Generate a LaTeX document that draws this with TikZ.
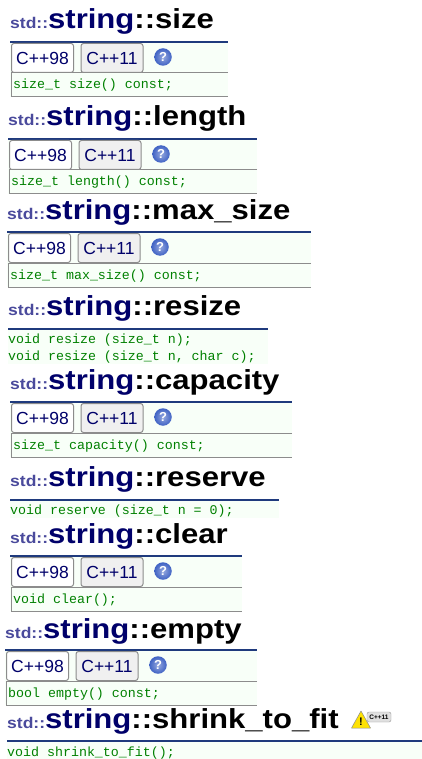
\documentclass[tikz,border=0pt]{standalone}
\usepackage{fontspec}
\setmainfont{Liberation Sans}
\setmonofont{Liberation Mono}
\definecolor{rulecol}{HTML}{1F3A7D}
\definecolor{stdcol}{HTML}{4A4A9C}
\definecolor{namecol}{HTML}{00006A}
\definecolor{codecol}{HTML}{008000}
\definecolor{codebg}{HTML}{F8FFF8}
\definecolor{tabline}{HTML}{8C8C8C}
\definecolor{tabgray}{HTML}{F0F0F0}
\definecolor{helpcol}{HTML}{3F62C4}

% title and rule of one section
\newcommand{\apititle}[6]{
	\node[titletext] (title#1) at (#2,#3) {\scalebox{1.13}[1]{{\fontsize{15.5}{15.5}\selectfont\color{stdcol}std::}{\color{namecol}string}::#6}};
	\coordinate (rulel#1) at (#2,#4);
	\coordinate (ruler#1) at (#5,#4);
	\draw[headrule] (rulel#1) -- (ruler#1);
}
% background, C++98 and C++11 tabs, help icon, one line of code in a box
\newcommand{\apibox}[5]{
	\fill[codebg] (#2,#3+1) rectangle (#4,#3+55);
	\draw[boxline] (#4,#3+31) -- (#2+1,#3+31) -- (#2+1,#3+55) -- (#4,#3+55);
	\node[tabbox,fill=white] (taba#1) at (#2+1,#3+31) {C++98};
	\node[tabbox,fill=tabgray] (tabb#1) at (#2+70.5,#3+31) {C++11};
	\node[helpicon] (help#1) at (#2+153,#3+15) {?};
	\node[codetext] (code#1) at (#2+3,#3+47) {#5};
}

\begin{document}
\begin{tikzpicture}[x=1pt,y=-1pt,
	titletext/.style={anchor=base west, inner sep=0pt, font=\fontsize{27.5}{27.5}\selectfont\bfseries},
	headrule/.style={line width=1.6pt, rulecol},
	boxline/.style={line width=1pt, tabline},
	tabbox/.style={draw=tabline, line width=1pt, anchor=south west, inner sep=0pt, minimum width=62pt, minimum height=29pt, rounded corners=2.5pt, text=namecol, font=\fontsize{17.5}{17.5}\selectfont},
	helpicon/.style={circle, inner color=helpcol!55!white, outer color=helpcol, text=white, inner sep=0pt, minimum size=17.5pt, font=\fontsize{13}{13}\selectfont\bfseries},
	codetext/.style={anchor=base west, inner sep=0pt, text=codecol, font=\fontsize{13.3}{13.3}\selectfont\ttfamily},
	]
	\useasboundingbox (0,0) rectangle (422,759);
	\fill[white] (0,0) rectangle (422,759);

	\apititle{size}{10}{29}{42}{228}{size}
	\apibox{size}{10}{42}{228}{size\_t size() const;}

	\apititle{length}{8}{126}{139}{257}{length}
	\apibox{length}{8}{139}{257}{size\_t length() const;}

	\apititle{maxsize}{7}{219}{232}{311}{max\_size}
	\apibox{maxsize}{7}{232}{311}{size\_t max\_size() const;}

	\apititle{resize}{8}{315}{329}{268}{resize}
	\fill[codebg] (8,330) rectangle (268,364);
	\node[codetext] (codea) at (8,343) {void resize (size\_t n);};
	\node[codetext] (codeb) at (8,360) {void resize (size\_t n, char c);};

	\apititle{capacity}{10}{389}{402}{292}{capacity}
	\apibox{capacity}{10}{402}{292}{size\_t capacity() const;}

	\apititle{reserve}{10}{486}{500}{279}{reserve}
	\fill[codebg] (10,501) rectangle (279,518);
	\node[codetext] (codereserve) at (10,514) {void reserve (size\_t n = 0);};

	\apititle{clear}{10}{543}{556}{242}{clear}
	\apibox{clear}{10}{556}{242}{void clear();}

	\apititle{empty}{5}{638}{650}{257}{empty}
	\apibox{empty}{5}{650}{257}{bool empty() const;}

	\apititle{shrink}{7}{728}{741}{422}{shrink\_to\_fit}
	\fill[codebg] (7,742) rectangle (422,759);
	\node[codetext] (codeshrink) at (7,756) {void shrink\_to\_fit();};

	% warning sign and badge
	\fill[yellow!85!orange, draw=black!45, line width=.5pt, line join=round] (351.5,728) -- (361,711) -- (370.5,728) -- cycle;
	\node[inner sep=0pt, font=\fontsize{11}{11}\selectfont\bfseries] (warn) at (361,722) {!};
	\node[draw=black!40, fill=black!12, rounded corners=2pt, inner sep=0pt, minimum width=24pt, minimum height=10pt, font=\fontsize{6.5}{6.5}\selectfont\bfseries] (badge) at (379,717) {C++11};
\end{tikzpicture}
\end{document}
